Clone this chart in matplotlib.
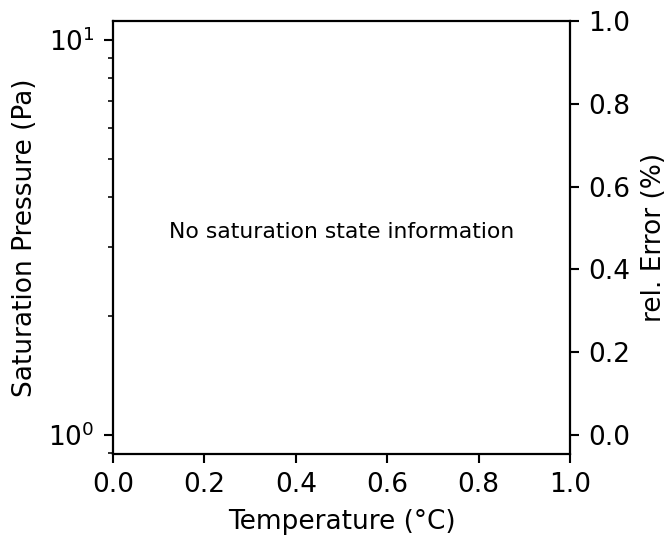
import matplotlib
matplotlib.use('Agg')
import matplotlib.pyplot as plt
import numpy as np

# no saturation data available for this fluid -> empty chart
temperature = []
pressure = []
rel_error = []
message = 'No saturation state information'

x_range = (0.0, 1.0)
p_range = (10 ** -0.048, 10 ** 1.048)
err_range = (-0.046, 1.0)

DPI = 190
plt.rcParams['font.size'] = 10

fig = plt.figure(figsize=(667 / DPI, 535 / DPI), dpi=DPI)
ax = fig.add_axes([113 / 667, 1 - 454 / 535, 457 / 667, 433 / 535])
ax2 = ax.twinx()

ax.plot(temperature, pressure, color='C0')
ax2.plot(temperature, rel_error, color='C1')

ax.set_yscale('log')
ax.set_xlim(*x_range)
ax.set_ylim(*p_range)
ax2.set_ylim(*err_range)
ax2.set_yticks(np.arange(0, 1.01, 0.2))

ax.set_xlabel('Temperature (°C)')
ax.set_ylabel('Saturation Pressure (Pa)')
ax2.set_ylabel('rel. Error (%)')

ax.text(0.5, 0.5, message, ha='center', fontsize=8.3, transform=ax.transAxes)

fig.savefig('out.png', dpi=DPI)
